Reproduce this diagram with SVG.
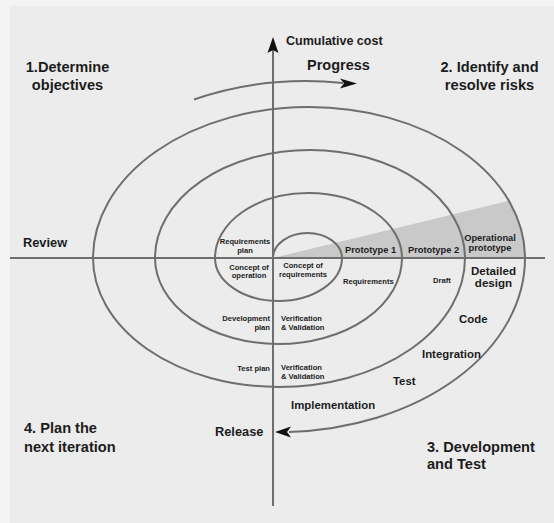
<svg xmlns="http://www.w3.org/2000/svg" width="554" height="523" viewBox="0 0 554 523">
<style>
text{font-family:"Liberation Sans",Arial,Helvetica,sans-serif;font-weight:bold;fill:#1c1c1c}
.q{font-size:14.6px}
.s{font-size:7.6px}
.m{font-size:9.3px}
.l{font-size:11.4px}
.a{font-size:12.8px}
.c{text-anchor:middle}
.r{text-anchor:end}
.line{fill:none;stroke:#6e6e6e;stroke-width:2}
.head{fill:#111}
</style>
<rect width="554" height="523" fill="#f4f4f4"/>
<rect x="10" y="6" width="544" height="517" fill="#ececec"/>
<path id="risk-wedge" d="M273,258 L509,200.7 A216,151 0 0 1 525,258 Z" fill="#c9c9c9"/>
<g id="connectors">
<path class="line" d="M273,258 A34.5,25 0 0 1 342,258 A63.5,43 0 0 1 215,258 A93.5,65 0 0 1 402,258 A123.5,86 0 0 1 155,258 A155,108 0 0 1 465,258 A186,129 0 0 1 93,258 A216,151 0 0 1 525,258 A246,174 0 0 1 289,431.9"/>
<polygon class="head" points="275,432 291,426.5 287,432 291,437.5"/>
<line class="line" x1="10" y1="258" x2="545" y2="258"/>
<line class="line" x1="273" y1="48" x2="273" y2="506"/>
<polygon class="head" points="273,37 278.5,53 273,50 267.5,53"/>
<path class="line" d="M194,99.5 Q265,75 343,83"/>
<polygon class="head" points="357,83.5 340,78.5 344,83.3 340,88.5"/>
</g>
<g id="q1"><text class="q c" x="67.5" y="72">1.Determine</text><text class="q c" x="67.5" y="90">objectives</text></g>
<g id="q2"><text class="q c" x="489.5" y="72">2. Identify and</text><text class="q c" x="489.5" y="90">resolve risks</text></g>
<g id="q3"><text class="q" x="427" y="452">3. Development</text><text class="q" x="427" y="469">and Test</text></g>
<g id="q4"><text class="q" x="24" y="433">4. Plan the</text><text class="q" x="24" y="452">next iteration</text></g>
<g id="cost"><text x="286" y="45" style="font-size:12.5px">Cumulative cost</text></g>
<g id="progress"><text x="307" y="69.5" style="font-size:14.5px">Progress</text></g>
<g id="review"><text class="a" x="23" y="247">Review</text></g>
<g id="release"><text class="a" x="215" y="436">Release</text></g>
<g id="req-plan"><text class="s c" x="245" y="244">Requirements</text><text class="s c" x="245" y="253">plan</text></g>
<g id="concept-op"><text class="s c" x="249" y="269.5">Concept of</text><text class="s c" x="249" y="278">operation</text></g>
<g id="concept-req"><text class="s c" x="303" y="268.3">Concept of</text><text class="s c" x="303" y="276.8">requirements</text></g>
<g id="requirements"><text class="s" x="343" y="284">Requirements</text></g>
<g id="draft"><text class="s" x="433" y="283">Draft</text></g>
<g id="dev-plan"><text class="s r" x="270" y="321">Development</text><text class="s r" x="270" y="330">plan</text></g>
<g id="vv1"><text class="s" x="281" y="321">Verification</text><text class="s" x="281" y="330">&amp; Validation</text></g>
<g id="test-plan"><text class="s r" x="270" y="370.5">Test plan</text></g>
<g id="vv2"><text class="s" x="281" y="369.5">Verification</text><text class="s" x="281" y="378.5">&amp; Validation</text></g>
<g id="proto1"><text class="m" x="345" y="253">Prototype 1</text></g>
<g id="proto2"><text class="m" x="408" y="253">Prototype 2</text></g>
<g id="op-proto"><text class="m c" x="490" y="240.7">Operational</text><text class="m c" x="490" y="251">prototype</text></g>
<g id="detailed"><text class="c" x="493.5" y="275" style="font-size:11.6px">Detailed</text><text class="c" x="493.5" y="287" style="font-size:11.6px">design</text></g>
<g id="code"><text class="l" x="459" y="322.7">Code</text></g>
<g id="integration"><text class="l" x="422" y="358">Integration</text></g>
<g id="test"><text class="l" x="393" y="385">Test</text></g>
<g id="implementation"><text class="l" x="291" y="409">Implementation</text></g>
</svg>
